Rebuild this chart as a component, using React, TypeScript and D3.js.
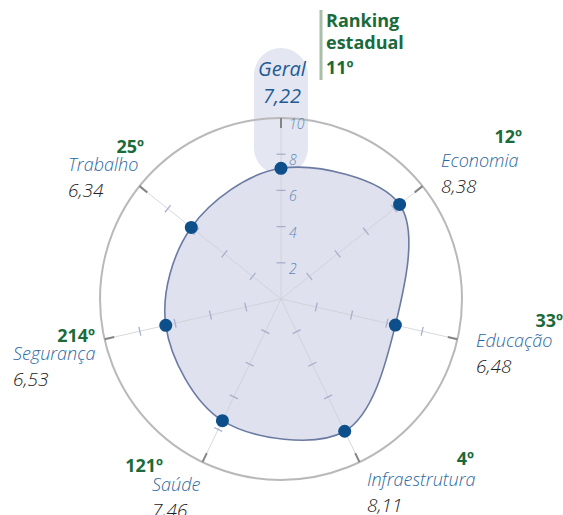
import React from "react";
import * as d3 from "d3";

// pilares do índice, na ordem do gráfico (sentido horário a partir do topo)
const categories = ["Geral", "Economia", "Educação", "Infraestrutura", "Saúde", "Segurança", "Trabalho"];
const scores = [7.22, 8.38, 6.48, 8.11, 7.46, 6.53, 6.34];
const ranks = ["11º", "12º", "33º", "4º", "121º", "214º", "25º"];
const scaleTicks = [2, 4, 6, 8, 10];
const rankingGeral = "11º";

// posição dos rótulos de cada pilar (o Geral fica no topo, dentro da pílula)
const labelLayout = [
  null,
  { x: 441, y: 167, rankX: 522, rankDy: -24 },
  { x: 476, y: 347, rankX: 563, rankDy: -20 },
  { x: 367, y: 486, rankX: 474, rankDy: -21 },
  { x: 152, y: 491, rankX: 163, rankDy: -19 },
  { x: 13, y: 360, rankX: 95, rankDy: -18 },
  { x: 68, y: 171, rankX: 144, rankDy: -18 },
];

const W = 563, H = 515;
const cx = 281, cy = 299, R = 181;

const pt = d3.formatLocale({ decimal: ",", thousands: ".", grouping: [3], currency: ["R$", ""] });
const fmt = pt.format(".2f");

const FONT = "'Open Sans', 'DejaVu Sans', sans-serif";
const BLUE = "#2b68a1";
const GREEN = "#1b6a3a";

export default function App() {
  const r = d3.scaleLinear().domain([0, 10]).range([0, R]);
  const angle = d3.scalePoint<string>().domain(categories).range([0, 2 * Math.PI * (1 - 1 / categories.length)]);

  const px = (c: string, v: number) => cx + r(v) * Math.sin(angle(c)!);
  const py = (c: string, v: number) => cy - r(v) * Math.cos(angle(c)!);

  const area = d3
    .lineRadial<number>()
    .angle((_, i) => angle(categories[i])!)
    .radius((d) => r(d))
    .curve(d3.curveCatmullRomClosed.alpha(0.5));

  return (
    <svg width={W} height={H} style={{ position: "absolute", left: 0, top: 0 }} fontFamily={FONT}>
      {/* pílula atrás do Geral */}
      <rect x={cx - 27} y={48} width={54} height={127} rx={27} fill="#e4e7f1" />

      {/* círculo externo */}
      <circle cx={cx} cy={cy} r={r(10)} fill="none" stroke="#b9b9b9" strokeWidth={2} />

      {/* área */}
      <path d={area(scores) || ""} transform={`translate(${cx},${cy})`} fill="#dfe1ee" stroke="#6a7aa2" strokeWidth={1.6} />

      {/* eixos */}
      {categories.map((c) => {
        const a = angle(c)!;
        const ux = Math.sin(a), uy = -Math.cos(a);
        return (
          <g key={c}>
            <line x1={cx} y1={cy} x2={px(c, 10)} y2={py(c, 10)} stroke="#cfd0d6" strokeWidth={1} opacity={0.8} />
            <line x1={px(c, 10)} y1={py(c, 10)} x2={px(c, 9.45)} y2={py(c, 9.45)} stroke="#858585" strokeWidth={2} />
            {scaleTicks.slice(0, 4).map((t) => (
              <line
                key={t}
                x1={px(c, t) - uy * 4.5}
                y1={py(c, t) + ux * 4.5}
                x2={px(c, t) + uy * 4.5}
                y2={py(c, t) - ux * 4.5}
                stroke="#a7afcc"
                strokeWidth={1.3}
              />
            ))}
          </g>
        );
      })}

      {/* escala no eixo Geral */}
      {scaleTicks.map((t) => (
        <text key={t} x={cx + 8} y={py(categories[0], t) + 11} fontSize={14} fontStyle="italic" fontWeight={300} fill="#5f86b3">
          {t}
        </text>
      ))}

      {/* pontos */}
      {categories.map((c, i) => (
        <circle key={c} cx={px(c, scores[i])} cy={py(c, scores[i])} r={6.5} fill="#0d4f8a" />
      ))}

      {/* Geral */}
      <text x={cx + 1} y={76} textAnchor="middle" fontSize={20} fontStyle="italic" fill="#1f5b94">
        {categories[0]}
      </text>
      <text x={cx + 1} y={103} textAnchor="middle" fontSize={20} fontStyle="italic" fill="#1f5b94">
        {fmt(scores[0])}
      </text>

      {/* Ranking estadual */}
      <line x1={321} y1={10} x2={321} y2={80} stroke="#a9bfa9" strokeWidth={3} />
      <text x={326} fill={GREEN} fontSize={18} fontWeight={700}>
        <tspan x={326} y={27}>Ranking</tspan>
        <tspan x={326} y={49}>estadual</tspan>
        <tspan x={326} y={74}>{rankingGeral}</tspan>
      </text>

      {/* rótulos dos pilares */}
      {categories.map((c, i) => {
        const l = labelLayout[i];
        if (!l) return null;
        return (
          <g key={c}>
            <text x={l.rankX} y={l.y + l.rankDy} textAnchor="end" fontSize={18} fontWeight={700} fill={GREEN}>
              {ranks[i]}
            </text>
            <text x={l.x} y={l.y} fontSize={18} fontStyle="italic" fontWeight={300} fill={BLUE}>
              {c}
            </text>
            <text x={l.x} y={l.y + 26} fontSize={19} fontStyle="italic" fontWeight={300} fill="#222">
              {fmt(scores[i])}
            </text>
          </g>
        );
      })}
    </svg>
  );
}
